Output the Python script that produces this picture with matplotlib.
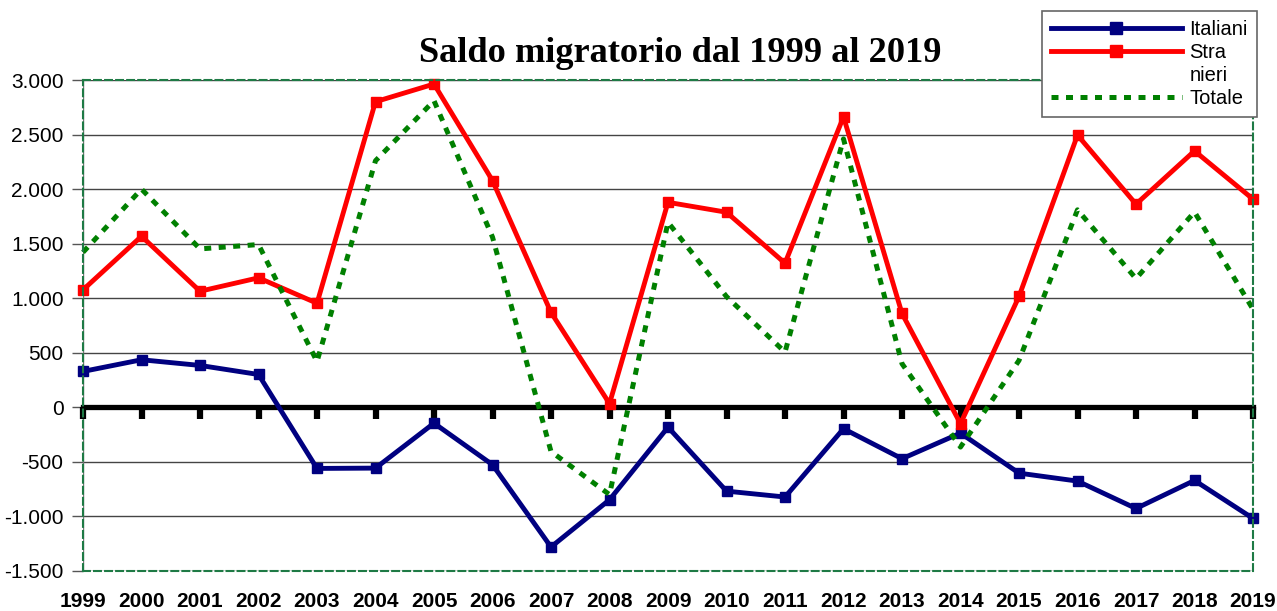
import matplotlib
matplotlib.use("Agg")
import matplotlib.pyplot as plt
from matplotlib.patches import Patch
from matplotlib.lines import Line2D
from matplotlib.ticker import FuncFormatter

plt.rcParams["axes.unicode_minus"] = False

# Dati
anni = list(range(1999, 2020))
italiani = [329, 436, 384, 301, -560, -557, -145, -526, -1280, -847, -182,
            -768, -822, -196, -471, -236, -603, -676, -927, -670, -1018]
stranieri = [1077, 1568, 1064, 1187, 954, 2801, 2963, 2078, 870, 34, 1879,
             1788, 1321, 2663, 860, -150, 1016, 2495, 1862, 2350, 1908]
totale = [1421, 2000, 1452, 1492, 420, 2260, 2810, 1560, -405, -800, 1696,
          1015, 506, 2460, 400, -364, 430, 1810, 1180, 1790, 899]

titolo = "Saldo migratorio dal 1999 al 2019"
BLU = "#000080"
ROSSO = "#ff0000"
VERDE = "#008000"

fig = plt.figure(figsize=(12.77, 6.11), dpi=100)
ax = fig.add_axes([83 / 1277, 1 - 571 / 611, 1170 / 1277, 491 / 611])

ax.plot(anni, italiani, color=BLU, lw=3.5, marker="s", ms=6.5,
        clip_on=False, zorder=2)
ax.plot(anni, stranieri, color=ROSSO, lw=3.5, marker="s", ms=6.5,
        clip_on=False, zorder=2)
ax.plot(anni, totale, color=VERDE, lw=3.6, linestyle=(0, (1.4, 1.5)),
        dash_capstyle="butt", clip_on=False, zorder=2.1)

ax.set_xlim(anni[0], anni[-1])
ax.set_ylim(-1500, 3000)
ax.set_yticks(range(-1500, 3001, 500))
ax.yaxis.set_major_formatter(
    FuncFormatter(lambda v, p: f"{int(v):,}".replace(",", ".")))
ax.set_xticks(anni)
ax.set_xticklabels([str(a) for a in anni], fontweight="bold",
                   fontsize=15, family="Liberation Sans")
ax.tick_params(axis="x", length=0, pad=15)
ax.tick_params(axis="y", length=8, width=1, color="#555555", pad=6,
               labelsize=15)
for lab in ax.get_yticklabels():
    lab.set_family("Liberation Sans")

ax.set_axisbelow(True)
ax.yaxis.grid(True, color="#444444", lw=1)
ax.axvline(anni[0], color="#777777", lw=1, zorder=0.6)
for s in ax.spines.values():
    s.set_color("#1e7a45")
    s.set_linestyle((0, (3.3, 2)))
    s.set_linewidth(1.5)

# asse dello zero con tacche
sec = ax.secondary_xaxis(1500 / 4500)
sec.set_xticks(anni)
sec.set_xticklabels([])
sec.tick_params(axis="x", direction="out", length=8.5, width=4.5, color="black")
sec.spines["bottom"].set_linewidth(3.8)
sec.spines["bottom"].set_color("black")
sec.set_zorder(1)

fig.text(680 / 1277, 1 - 62 / 611, titolo, ha="center", va="baseline",
         family="Liberation Serif", fontweight="bold", fontsize=26.2)

handles = [
    Line2D([], [], color=BLU, lw=3.5, marker="s", ms=9),
    Line2D([], [], color=ROSSO, lw=3.5, marker="s", ms=9),
    Patch(visible=False),
    Line2D([], [], color=VERDE, lw=3.6, linestyle=(0, (1.4, 1.5))),
]
labels = ["Italiani", "Stra", "nieri", "Totale"]
leg = fig.legend(handles, labels, loc="upper right",
                 bbox_to_anchor=(1257 / 1277, 1 - 11 / 611),
                 bbox_transform=fig.transFigure, borderaxespad=0,
                 fancybox=False, frameon=True, edgecolor="#666666",
                 framealpha=1, borderpad=0.45, handlelength=6.5,
                 handletextpad=0.4, labelspacing=0.2,
                 prop={"family": "Liberation Sans", "size": 14.5})
leg.get_frame().set_linewidth(1.2)

fig.savefig("out.png", dpi=100)
